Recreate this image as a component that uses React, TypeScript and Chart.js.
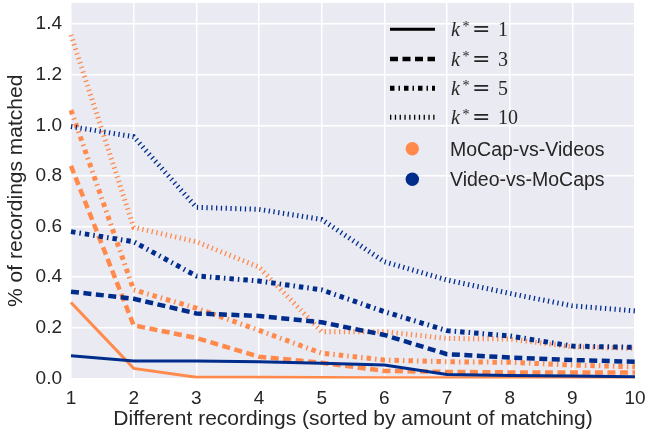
import React, { useEffect, useRef } from "react";
import { Chart, registerables } from "chart.js";

Chart.register(...registerables);

const categories = ["1", "2", "3", "4", "5", "6", "7", "8", "9", "10"];
const yTicks = [0, 0.2, 0.4, 0.6, 0.8, 1.0, 1.2, 1.4];

// MoCap-vs-Videos (orange)
const mocapK1 = [0.3, 0.04, 0.005, 0.005, 0.004, 0.003, 0.003, 0.003, 0.003, 0.003];
const mocapK3 = [0.84, 0.21, 0.16, 0.086, 0.062, 0.03, 0.026, 0.024, 0.024, 0.024];
const mocapK5 = [1.06, 0.35, 0.278, 0.19, 0.1, 0.073, 0.066, 0.064, 0.053, 0.046];
const mocapK10 = [1.357, 0.597, 0.54, 0.44, 0.185, 0.185, 0.158, 0.156, 0.125, 0.119];

// Video-vs-MoCaps (blue)
const videoK1 = [0.09, 0.069, 0.069, 0.066, 0.06, 0.053, 0.016, 0.012, 0.01, 0.007];
const videoK3 = [0.343, 0.315, 0.257, 0.247, 0.222, 0.172, 0.096, 0.083, 0.073, 0.066];
const videoK5 = [0.58, 0.54, 0.405, 0.385, 0.35, 0.264, 0.189, 0.168, 0.128, 0.123];
const videoK10 = [0.995, 0.955, 0.676, 0.668, 0.628, 0.461, 0.389, 0.336, 0.287, 0.267];

const kLabels = ["1", "3", "5", "10"];
const groupLabels = ["MoCap-vs-Videos", "Video-vs-MoCaps"];

const ORANGE = "#FF8A4C";
const BLUE = "#002D8C";
const TEXT = "#262626";

const styles = [
  { width: 3, dash: [] as number[] },
  { width: 4.5, dash: [8, 4.5] },
  { width: 5, dash: [4.5, 4, 1.5, 4] },
  { width: 5, dash: [1.3, 3.5] },
];

function ds(label: string, data: number[], color: string, k: number) {
  return {
    label,
    data,
    borderColor: color,
    backgroundColor: color,
    borderWidth: styles[k].width,
    borderDash: styles[k].dash,
    borderCapStyle: "butt" as const,
    borderJoinStyle: "miter" as const,
    pointRadius: 0,
    tension: 0,
    fill: false,
  };
}

const legendPlugin = {
  id: "customLegend",
  afterDraw(chart: any) {
    const ctx = chart.ctx as CanvasRenderingContext2D;
    const rows = [29.3, 59, 88.3, 117.3, 148.8, 179.3];
    ctx.save();
    for (let i = 0; i < 4; i++) {
      const y = rows[i];
      ctx.beginPath();
      ctx.strokeStyle = "#000000";
      ctx.lineWidth = styles[i].width;
      ctx.lineCap = "butt";
      ctx.setLineDash(styles[i].dash);
      ctx.moveTo(390, y);
      ctx.lineTo(435, y);
      ctx.stroke();
      ctx.setLineDash([]);
      const base = y + 6.7;
      ctx.fillStyle = TEXT;
      ctx.textBaseline = "alphabetic";
      ctx.textAlign = "left";
      ctx.font = "italic 20px 'Liberation Serif'";
      ctx.fillText("k", 451, base);
      ctx.font = "14px 'Liberation Serif'";
      ctx.fillText("*", 462.5, base - 5);
      ctx.font = "22px 'DejaVu Serif'";
      ctx.fillText("=", 472, base);
      ctx.font = "20px 'Liberation Serif'";
      ctx.fillText(kLabels[i], 498, base);
    }
    const colors = [ORANGE, BLUE];
    for (let j = 0; j < 2; j++) {
      const y = rows[4 + j];
      ctx.beginPath();
      ctx.fillStyle = colors[j];
      ctx.arc(412.3, y, 6.7, 0, Math.PI * 2);
      ctx.fill();
      ctx.fillStyle = TEXT;
      ctx.font = "19.5px 'Liberation Sans', Arial, sans-serif";
      ctx.textAlign = "left";
      ctx.textBaseline = "alphabetic";
      ctx.fillText(groupLabels[j], 450, y + 6.7);
    }
    ctx.restore();
  },
};

const bgPlugin = {
  id: "plotBg",
  beforeDraw(chart: any) {
    const { ctx, chartArea } = chart;
    ctx.save();
    ctx.fillStyle = "#EAEAF2";
    ctx.fillRect(chartArea.left, chartArea.top, chartArea.right - chartArea.left, chartArea.bottom - chartArea.top);
    ctx.restore();
  },
};

export default function App() {
  const ref = useRef<HTMLCanvasElement | null>(null);
  useEffect(() => {
    document.body.style.margin = "0";
    const canvas = ref.current!;
    const chart = new Chart(canvas, {
      type: "line",
      data: {
        labels: categories,
        datasets: [
          ds("Video k1", videoK1, BLUE, 0),
          ds("MoCap k1", mocapK1, ORANGE, 0),
          ds("Video k3", videoK3, BLUE, 1),
          ds("Video k5", videoK5, BLUE, 2),
          ds("Video k10", videoK10, BLUE, 3),
          ds("MoCap k3", mocapK3, ORANGE, 1),
          ds("MoCap k5", mocapK5, ORANGE, 2),
          ds("MoCap k10", mocapK10, ORANGE, 3),
        ],
      },
      options: {
        responsive: false,
        animation: false,
        layout: { padding: { left: 0, right: 10, top: 3, bottom: 0 } },
        plugins: {
          legend: { display: false },
          tooltip: { enabled: false },
        },
        scales: {
          x: {
            type: "category",
            offset: false,
            grid: { color: "#FFFFFF", lineWidth: 1.5, drawTicks: false },
            border: { display: false },
            ticks: {
              color: TEXT,
              font: { family: "'Liberation Sans', Arial, sans-serif", size: 19 },
              padding: 9,
              maxRotation: 0,
              autoSkip: false,
            },
            title: {
              display: true,
              text: "Different recordings (sorted by amount of matching)",
              color: TEXT,
              font: { family: "'Liberation Sans', Arial, sans-serif", size: 21 },
              padding: { top: 0, bottom: 4 },
            },
            afterFit(scale: any) {
              scale.height = 57.5;
              scale.paddingLeft = 0;
              scale.paddingRight = 0;
            },
          },
          y: {
            type: "linear",
            min: 0,
            max: 1.483,
            grid: { color: "#FFFFFF", lineWidth: 1.5, drawTicks: false },
            border: { display: false },
            afterBuildTicks(scale: any) {
              scale.ticks = yTicks.map((v) => ({ value: v }));
            },
            ticks: {
              color: TEXT,
              font: { family: "'Liberation Sans', Arial, sans-serif", size: 19 },
              padding: 9,
              callback: (v: any) => Number(v).toFixed(1),
            },
            title: {
              display: true,
              text: "% of recordings matched",
              color: TEXT,
              font: { family: "'Liberation Sans', Arial, sans-serif", size: 21 },
              padding: { top: 4, bottom: 0 },
            },
            afterFit(scale: any) {
              scale.width = 71;
              scale.paddingTop = 0;
              scale.paddingBottom = 0;
            },
          },
        },
      },
      plugins: [bgPlugin, legendPlugin],
    } as any);
    return () => chart.destroy();
  }, []);
  return (
    <div style={{ position: "fixed", left: 0, top: 0, width: 645, height: 436 }}>
      <canvas ref={ref} width={645} height={436} style={{ display: "block" }} />
    </div>
  );
}
